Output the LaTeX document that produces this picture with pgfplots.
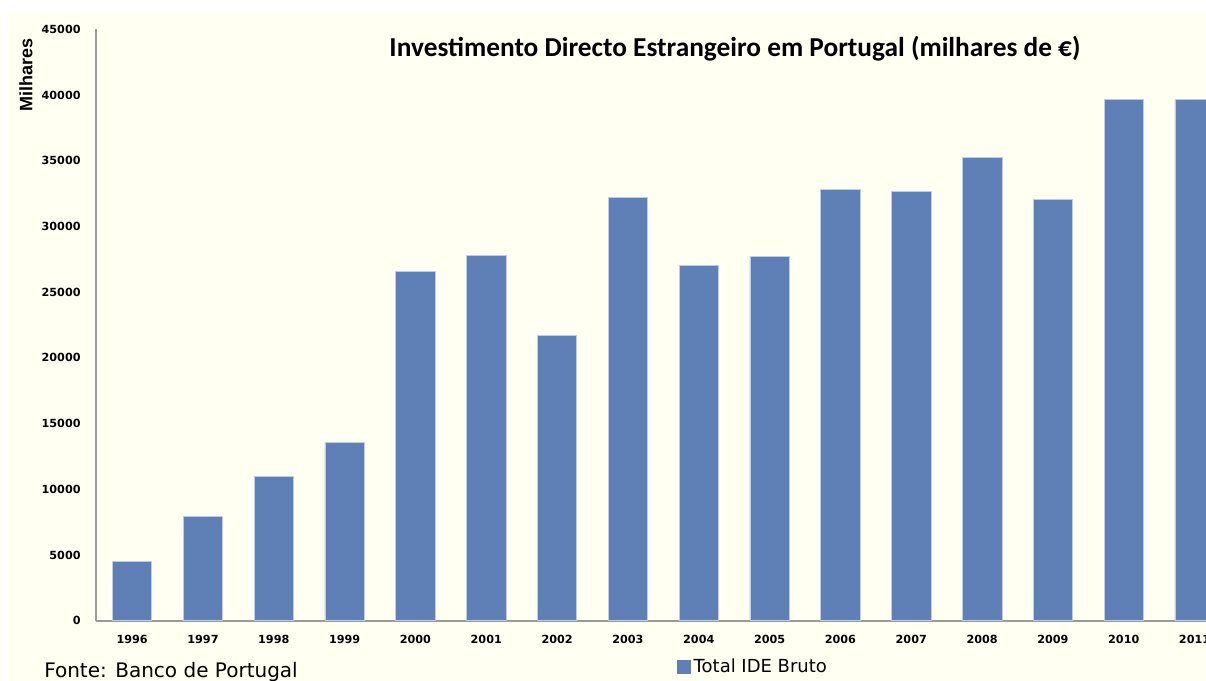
\documentclass[border=0pt]{standalone}
\usepackage{pgfplots}
\pgfplotsset{compat=1.18}
\usepackage{fontspec}
\setmainfont{DejaVu Sans}
\newfontfamily\titlefont{Carlito}
\newfontfamily\labfont{Liberation Sans}
\definecolor{cream}{RGB}{255,255,242}
\definecolor{barblue}{RGB}{94,128,183}
\definecolor{baredge}{RGB}{190,204,228}
\definecolor{axgray}{RGB}{155,155,155}
\begin{document}
\begin{tikzpicture}
\path[use as bounding box] (0pt,0pt) rectangle (904.5pt,-510.75pt);
\fill[cream] (6pt,-9pt) rectangle (904.5pt,-510.75pt);
\begin{axis}[
  at={(72pt,-465.5pt)}, anchor=south west,
  scale only axis, width=832.5pt, height=443.55pt,
  ybar, bar width=0.557,
  xmin=1995.49, xmax=2011.16,
  ymin=0, ymax=45000,
  ytick={0,5000,...,45000},
  xtick={1996,1997,...,2011},
  scaled y ticks=false,
  /pgf/number format/1000 sep={},
  /pgf/number format/assume math mode=true,
  xticklabel style={font=\bfseries\fontsize{8.4}{9}\selectfont, yshift=-7pt},
  yticklabel style={font=\bfseries\fontsize{8.4}{9}\selectfont, xshift=-8pt},
  major tick length=0pt,
  separate axis lines,
  axis x line*=bottom, axis y line*=left,
  axis line style={-, draw=axgray, line width=1.3pt},
  ylabel={\labfont\bfseries\fontsize{13.5}{15}\selectfont Milhares},
  ylabel style={at={(axis description cs:-0.063,0.923)}, anchor=center, rotate=0},
  title={\titlefont\bfseries\fontsize{20.5}{24}\selectfont Investimento Directo Estrangeiro em Portugal (milhares de €)},
  title style={at={(axis description cs:0.5757,0.9537)}, anchor=center},
  legend style={draw=none, fill=none, inner sep=0pt, at={(0.5234,-0.078)}, anchor=west,
    font=\fontsize{13.5}{15}\selectfont},
  legend image code/.code={\fill[barblue] (0pt,-4.9pt) rectangle (9.75pt,4.9pt);},
  legend cell align=left,
]
\addplot[fill=barblue, draw=baredge, line width=0.6pt] coordinates {
(1996,4540) (1997,7930) (1998,10970) (1999,13550) (2000,26600)
(2001,27790) (2002,21710) (2003,32200) (2004,27050) (2005,27690)
(2006,32810) (2007,32680) (2008,35240) (2009,32070) (2010,39650) (2011,39650)};
\addlegendentry{Total IDE Bruto}
\end{axis}
\node[anchor=base west, inner sep=0pt, font=\fontsize{15}{17}\selectfont] at (33pt,-507.75pt) {Fonte: Banco de Portugal};
\end{tikzpicture}
\end{document}
